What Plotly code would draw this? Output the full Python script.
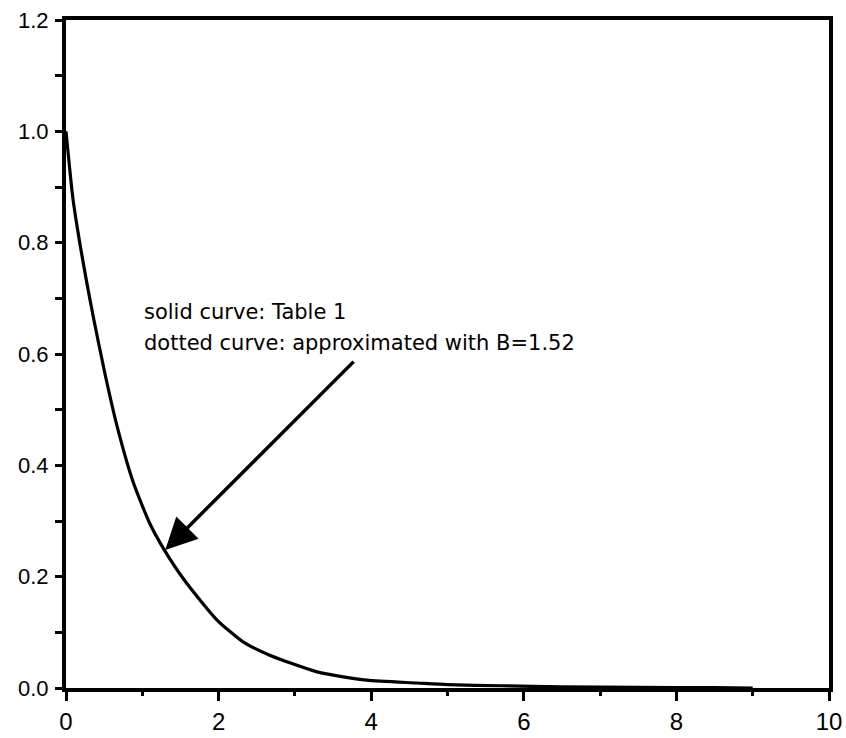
import plotly.graph_objects as go

# Data
x_vals = [0.0, 0.09, 0.18, 0.27, 0.36, 0.51, 0.67, 0.88, 1.10, 1.28, 1.55, 1.98, 2.32, 2.67, 3.29, 3.94, 4.6, 5.0, 5.7, 6.5, 7.5, 8.5, 9.0]
y_vals = [1.0, 0.88, 0.80, 0.73, 0.665, 0.565, 0.47, 0.37, 0.295, 0.25, 0.194, 0.122, 0.083, 0.059, 0.029, 0.014, 0.009, 0.006, 0.004, 0.002, 0.001, 0.0005, 0.0]

label_line1 = "solid curve: Table 1"
label_line2 = "dotted curve: approximated with B=1.52"
arrow_head = (1.30, 0.248)
arrow_tail = (3.79, 0.589)

fig = go.Figure()
fig.add_trace(go.Scatter(x=x_vals, y=y_vals, mode="lines",
                         line=dict(color="black", width=3.2, shape="spline", smoothing=0.6),
                         showlegend=False))

txt_font = dict(family="DejaVu Sans", size=21, color="black")
fig.add_annotation(x=1.0, y=0.675, xref="x", yref="y", text=label_line1,
                   showarrow=False, xanchor="left", yanchor="middle", font=txt_font)
fig.add_annotation(x=1.0, y=0.62, xref="x", yref="y", text=label_line2,
                   showarrow=False, xanchor="left", yanchor="middle", font=txt_font)
fig.add_annotation(x=arrow_head[0], y=arrow_head[1], ax=arrow_tail[0], ay=arrow_tail[1],
                   xref="x", yref="y", axref="x", ayref="y", text="",
                   showarrow=True, arrowhead=2, arrowsize=1.8, arrowwidth=3.5,
                   arrowcolor="black")

fig.update_layout(
    width=846, height=738,
    margin=dict(l=66, r=17, t=20, b=50),
    paper_bgcolor="white", plot_bgcolor="white",
    showlegend=False,
)
fig.update_xaxes(range=[0, 10], dtick=2, tick0=0, showgrid=False, zeroline=False,
                 showline=True, linewidth=4, linecolor="black", mirror=True,
                 automargin=False,
                 ticks="outside", ticklen=9, tickwidth=3, tickcolor="black",
                 ticklabelstandoff=0,
                 minor=dict(dtick=1, tick0=0, ticks="outside", ticklen=4, tickwidth=3, tickcolor="black"),
                 tickfont=dict(family="Liberation Sans", size=24, color="black"))
fig.update_yaxes(range=[0, 1.2], dtick=0.2, tick0=0, tickformat=".1f", showgrid=False, zeroline=False,
                 showline=True, linewidth=4, linecolor="black", mirror=True,
                 automargin=False,
                 ticks="outside", ticklen=7, tickwidth=3, tickcolor="black",
                 ticklabelstandoff=2,
                 minor=dict(dtick=0.1, tick0=0, ticks="outside", ticklen=7, tickwidth=3, tickcolor="black"),
                 tickfont=dict(family="Liberation Sans", size=22, color="black"))

fig.write_html("out.html")
